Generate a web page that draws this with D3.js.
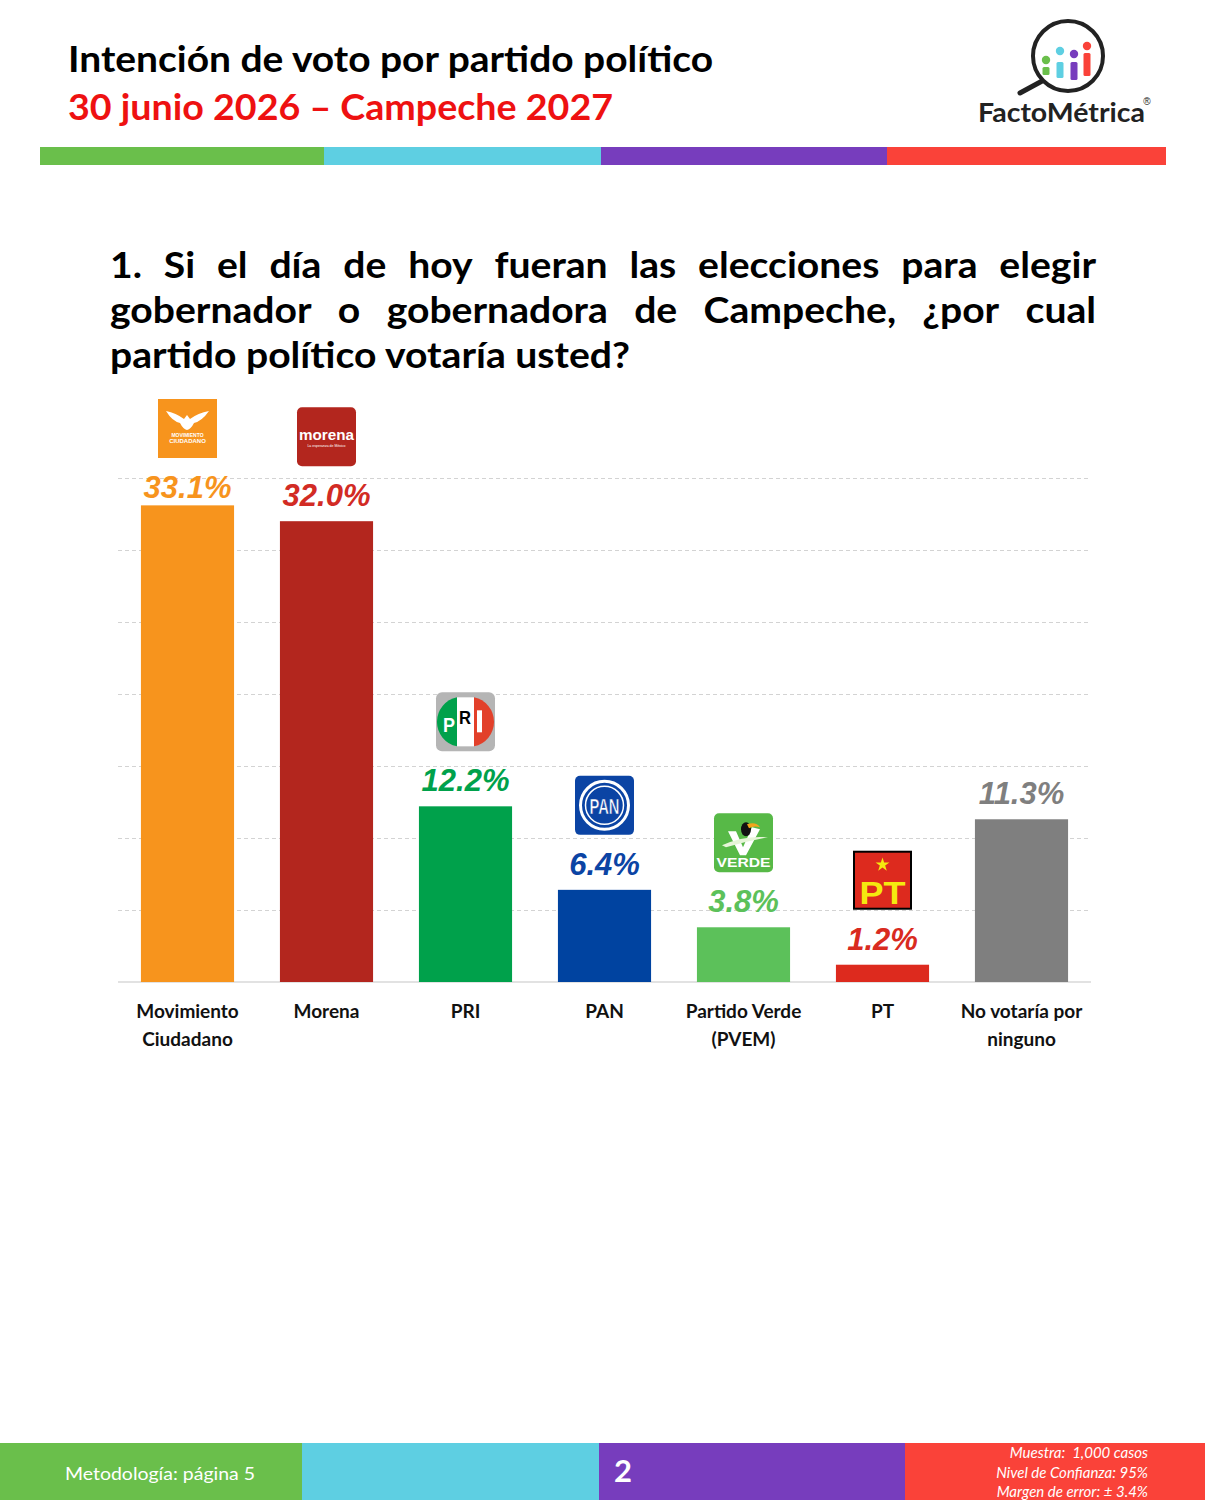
<!DOCTYPE html>
<html><head><meta charset="utf-8">
<script src="https://cdn.jsdelivr.net/npm/d3@7"></script>
<style>body{margin:0;background:#fff}svg{display:block}</style>
</head><body>
<script>
const categories = ["Movimiento Ciudadano","Morena","PRI","PAN","Partido Verde (PVEM)","PT","No votaría por ninguno"];
const categoryLines = [["Movimiento","Ciudadano"],["Morena"],["PRI"],["PAN"],["Partido Verde","(PVEM)"],["PT"],["No votaría por","ninguno"]];
const values = [33.1, 32.0, 12.2, 6.4, 3.8, 1.2, 11.3];
const valueLabels = ["33.1%","32.0%","12.2%","6.4%","3.8%","1.2%","11.3%"];
const barColors = ["#f7941d","#b3261e","#00a14b","#0043a0","#5cc15a","#dd2a1e","#7f7f7f"];
const labelColors = ["#f7941d","#d22b24","#00a14b","#0b44a4","#5cc15a","#d92b1f","#7f7f7f"];
const logos = ["mc","morena","pri","pan","verde","pt",null];
const yTicks = [0,5,10,15,20,25,30,35];

const W = 1205, H = 1500;
const svg = d3.select("body").append("svg").attr("width",W).attr("height",H);

// Header
svg.append("text").attr("x",68).attr("y",72).attr("font-family","Lato").attr("font-weight",700)
  .attr("font-size",36).attr("fill","#000").attr("textLength",645).attr("lengthAdjust","spacingAndGlyphs")
  .text("Intención de voto por partido político");
svg.append("text").attr("x",68).attr("y",120).attr("font-family","Lato").attr("font-weight",700)
  .attr("font-size",36).attr("fill","#ee1111").attr("textLength",545).attr("lengthAdjust","spacingAndGlyphs")
  .text("30 junio 2026 – Campeche 2027");

const stripeCols = ["#6abf4b","#5ecfe2","#773dbd","#fa4239"];
[[40,324],[324,601],[601,887],[887,1166]].forEach((s,i)=>{
  svg.append("rect").attr("x",s[0]).attr("y",147).attr("width",s[1]-s[0]).attr("height",18).attr("fill",stripeCols[i]);
});

// FactoMétrica logo
const lg = svg.append("g");
lg.append("line").attr("x1",1044).attr("y1",80).attr("x2",1020).attr("y2",93).attr("stroke","#222").attr("stroke-width",5).attr("stroke-linecap","round");
lg.append("circle").attr("cx",1068).attr("cy",56).attr("r",35).attr("fill","#fff").attr("stroke","#222").attr("stroke-width",4);
[[1046,67,75,"#6abf4b",60],[1060,62,78,"#5ecfe2",51],[1074,62,80,"#773dbd",54],[1087,53,76,"#fa4239",46]].forEach(b=>{
  lg.append("rect").attr("x",b[0]-3.5).attr("y",b[1]).attr("width",7).attr("height",b[2]-b[1]).attr("rx",1.5).attr("fill",b[3]);
  lg.append("circle").attr("cx",b[0]).attr("cy",b[4]).attr("r",4.2).attr("fill",b[3]);
});
lg.append("text").attr("x",978).attr("y",122).attr("font-family","Lato").attr("font-weight",700).attr("font-size",26)
  .attr("fill","#222").attr("textLength",167).attr("lengthAdjust","spacingAndGlyphs").text("FactoMétrica");
lg.append("text").attr("x",1147).attr("y",105).attr("font-family","Liberation Sans").attr("font-size",10).attr("fill","#222").attr("text-anchor","middle").text("®");

// Question (justified, condensed to match narrow face)
const qLines = [
  "1. Si el día de hoy fueran las elecciones para elegir",
  "gobernador o gobernadora de Campeche, ¿por cual",
  "partido político votaría usted?"
];
const qx0 = 110, qx1 = 1096, qBase = [278, 323, 368];
const probe = svg.append("text").attr("font-family","Lato").attr("font-weight",700).attr("font-size",36).text(qLines[2]);
const ratio = 520 / probe.node().getComputedTextLength();
probe.remove();
qLines.forEach((line,li)=>{
  if (li === qLines.length-1) {
    svg.append("text").attr("x",qx0).attr("y",qBase[li]).attr("font-family","Lato").attr("font-weight",700).attr("font-size",36)
      .attr("fill","#000").attr("textLength",520).attr("lengthAdjust","spacingAndGlyphs").text(line);
    return;
  }
  const words = line.split(" ");
  const g = svg.append("g");
  const ts = words.map(w => g.append("text").attr("font-family","Lato").attr("font-weight",700).attr("font-size",36)
    .attr("fill","#000").attr("y",qBase[li]).text(w));
  const widths = ts.map(t=>t.node().getComputedTextLength()*ratio);
  ts.forEach((t,i)=>t.attr("textLength",widths[i]).attr("lengthAdjust","spacingAndGlyphs"));
  const total = d3.sum(widths);
  const gap = (qx1-qx0-total)/(words.length-1);
  let x = qx0;
  ts.forEach((t,i)=>{ t.attr("x",x); x += widths[i]+gap; });
});

// Chart
const x = d3.scaleBand().domain(categories).range([118,1091]).paddingInner(0.33).paddingOuter(0.165);
const y = d3.scaleLinear().domain([0,35]).range([982,478]);

const grid = svg.append("g").attr("transform","translate(118,0)")
  .call(d3.axisLeft(y).tickValues(yTicks.filter(v=>v>0)).tickSize(-(1091-118)).tickFormat(""));
grid.select(".domain").remove();
grid.selectAll(".tick line").attr("stroke","#d3d3d3").attr("stroke-width",1).attr("stroke-dasharray","4,3");

svg.append("line").attr("x1",118).attr("x2",1091).attr("y1",y(0)).attr("y2",y(0)).attr("stroke","#d9d9d9").attr("stroke-width",1.3);

svg.selectAll("rect.bar").data(values).enter().append("rect").attr("class","bar")
  .attr("x",(d,i)=>x(categories[i])).attr("width",x.bandwidth())
  .attr("y",d=>y(d)).attr("height",d=>y(0)-y(d)).attr("fill",(d,i)=>barColors[i]);

const labelY = d => Math.max(y(d)-15, 498);
svg.selectAll("text.val").data(values).enter().append("text").attr("class","val")
  .attr("x",(d,i)=>x(categories[i])+x.bandwidth()/2).attr("y",d=>labelY(d))
  .attr("text-anchor","middle").attr("font-family","Liberation Sans").attr("font-weight",700).attr("font-style","italic")
  .attr("font-size",31).attr("fill",(d,i)=>labelColors[i]).text((d,i)=>valueLabels[i]);

// x axis labels
const xa = svg.append("g").attr("transform",`translate(0,${y(0)})`).call(d3.axisBottom(x).tickSize(0).tickFormat(""));
xa.select(".domain").remove();
xa.selectAll(".tick").each(function(d,i){
  const t = d3.select(this).append("text").attr("fill","#111").attr("font-family","Lato").attr("font-weight",700)
    .attr("font-size",19).attr("text-anchor","middle");
  categoryLines[i].forEach((l,j)=>t.append("tspan").attr("x",0).attr("y",36+j*28).text(l));
});

// Party logos
const S = 59;
function drawLogo(kind, cx, bottom){
  const g = svg.append("g").attr("transform",`translate(${cx-S/2},${bottom-S})`);
  if (kind==="mc"){
    g.append("rect").attr("width",S).attr("height",S).attr("fill","#f7941d");
    g.append("path").attr("d","M8 12 Q18 14 26 20 L29 16 L32 20 Q40 14 51 12 Q44 22 36 24 Q33 30 29 31 Q25 30 22 24 Q14 22 8 12Z").attr("fill","#fff");
    g.append("text").attr("x",S/2).attr("y",38).attr("text-anchor","middle").attr("font-family","Liberation Sans").attr("font-weight",700).attr("font-size",5).attr("fill","#fff").text("MOVIMIENTO");
    g.append("text").attr("x",S/2).attr("y",44).attr("text-anchor","middle").attr("font-family","Liberation Sans").attr("font-weight",700).attr("font-size",6).attr("fill","#fff").text("CIUDADANO");
  } else if (kind==="morena"){
    g.append("rect").attr("width",S).attr("height",S).attr("rx",5).attr("fill","#b3261e");
    g.append("text").attr("x",S/2).attr("y",33).attr("text-anchor","middle").attr("font-family","Liberation Sans").attr("font-weight",700).attr("font-size",14).attr("fill","#fff").attr("textLength",55).attr("lengthAdjust","spacingAndGlyphs").text("morena");
    g.append("text").attr("x",S/2).attr("y",40).attr("text-anchor","middle").attr("font-family","Liberation Sans").attr("font-size",3.5).attr("fill","#fff").text("La esperanza de México");
  } else if (kind==="pri"){
    g.append("rect").attr("width",S).attr("height",S).attr("rx",6).attr("fill","#b5b5b5");
    g.append("path").attr("d","M21 5 A25 25 0 0 0 21 54 Z").attr("fill","#00a14b");
    g.append("rect").attr("x",21).attr("y",5).attr("width",17).attr("height",49).attr("fill","#fff");
    g.append("path").attr("d","M38 5 A25 25 0 0 1 38 54 Z").attr("fill","#e2402a");
    g.append("text").attr("x",7).attr("y",40).attr("font-family","Liberation Sans").attr("font-weight",700).attr("font-size",20).attr("fill","#fff").attr("textLength",12).attr("lengthAdjust","spacingAndGlyphs").text("P");
    g.append("text").attr("x",23).attr("y",32).attr("font-family","Liberation Sans").attr("font-weight",700).attr("font-size",18).attr("fill","#000").attr("textLength",12).attr("lengthAdjust","spacingAndGlyphs").text("R");
    g.append("rect").attr("x",41).attr("y",18).attr("width",5).attr("height",22).attr("fill","#fff");
  } else if (kind==="pan"){
    g.append("rect").attr("width",S).attr("height",S).attr("rx",5).attr("fill","#0b44a4");
    g.append("circle").attr("cx",S/2).attr("cy",S/2).attr("r",24).attr("fill","none").attr("stroke","#fff").attr("stroke-width",3);
    g.append("circle").attr("cx",S/2).attr("cy",S/2).attr("r",19).attr("fill","none").attr("stroke","#fff").attr("stroke-width",1.5);
    g.append("text").attr("x",S/2).attr("y",38).attr("text-anchor","middle").attr("font-family","Liberation Sans").attr("font-weight",700).attr("font-size",22).attr("fill","#fff").attr("stroke","#0b44a4").attr("stroke-width",0.6).attr("textLength",30).attr("lengthAdjust","spacingAndGlyphs").text("PAN");
  } else if (kind==="verde"){
    g.append("rect").attr("width",S).attr("height",S).attr("rx",5).attr("fill","#57b947");
    g.append("path").attr("d","M14 18 L22 18 L29 34 L38 14 L46 16 L32 42 L26 42 Z").attr("fill","#fff");
    g.append("path").attr("d","M8 32 Q30 22 54 24 Q32 28 12 34Z").attr("fill","#e6f5d8");
    g.append("ellipse").attr("cx",32).attr("cy",16).attr("rx",5).attr("ry",7).attr("fill","#111");
    g.append("path").attr("d","M33 11 Q42 8 46 14 Q40 12 35 15Z").attr("fill","#f2a51c");
    g.append("text").attr("x",S/2).attr("y",54).attr("text-anchor","middle").attr("font-family","Liberation Sans").attr("font-weight",700).attr("font-size",13).attr("fill","#fff").attr("textLength",54).attr("lengthAdjust","spacingAndGlyphs").text("VERDE");
  } else if (kind==="pt"){
    g.append("rect").attr("width",S).attr("height",S).attr("fill","#000");
    g.append("rect").attr("x",2).attr("y",2).attr("width",S-4).attr("height",S-4).attr("fill","#dd2a1e");
    const star = d3.symbol().type(d3.symbolStar).size(60)();
    g.append("path").attr("d",star).attr("transform",`translate(${S/2},14)`).attr("fill","#f5e90f");
    g.append("text").attr("x",S/2).attr("y",53).attr("text-anchor","middle").attr("font-family","Liberation Sans").attr("font-weight",700).attr("font-size",32).attr("fill","#f5e90f").attr("textLength",46).attr("lengthAdjust","spacingAndGlyphs").text("PT");
  }
}
values.forEach((v,i)=>{
  if (logos[i]) drawLogo(logos[i], x(categories[i])+x.bandwidth()/2, labelY(v)-40);
});

// Footer
const fcols = ["#6abf4b","#5ecfe2","#773dbd","#fa4239"];
[[0,302],[302,599],[599,905],[905,1205]].forEach((s,i)=>{
  svg.append("rect").attr("x",s[0]).attr("y",1443).attr("width",s[1]-s[0]).attr("height",57).attr("fill",fcols[i]);
});
svg.append("text").attr("x",65).attr("y",1480).attr("font-family","Lato").attr("font-size",18).attr("fill","#fff")
  .attr("textLength",190).attr("lengthAdjust","spacingAndGlyphs").text("Metodología: página 5");
svg.append("text").attr("x",623).attr("y",1482).attr("text-anchor","middle").attr("font-family","Lato").attr("font-weight",700).attr("font-size",31).attr("fill","#fff").text("2");
[["Muestra:  1,000 casos",1458],["Nivel de Confianza: 95%",1478],["Margen de error: ± 3.4%",1497]].forEach(r=>{
  svg.append("text").attr("x",1148).attr("y",r[1]).attr("text-anchor","end").attr("font-family","Lato").attr("font-style","italic")
    .attr("font-size",15).attr("fill","#fff").attr("xml:space","preserve").text(r[0]);
});
</script>
</body></html>
